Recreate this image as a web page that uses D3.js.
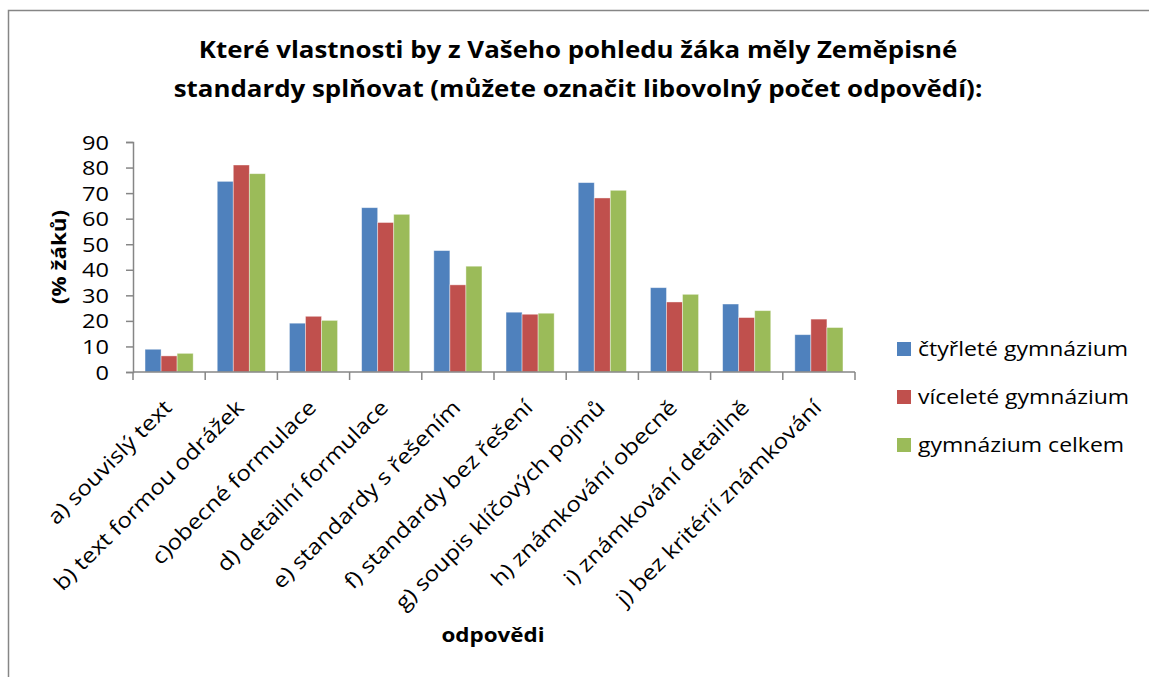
<!DOCTYPE html>
<html>
<head>
<meta charset="utf-8">
<script src="https://cdn.jsdelivr.net/npm/d3@7"></script>
<style>
  body { margin: 0; background: #fff; }
  svg { font-family: "Open Sans", sans-serif; }
</style>
</head>
<body>
<script>
var categories = ["a) souvislý text", "b) text formou odrážek", "c)obecné formulace", "d) detailní formulace",
  "e) standardy s řešením", "f) standardy bez řešení", "g) soupis klíčových pojmů", "h) známkování obecně",
  "i) známkování detailně", "j) bez kritérií známkování"];
var seriesNames = ["čtyřleté gymnázium", "víceleté gymnázium", "gymnázium celkem"];
var ctyrlete = [8.9, 74.6, 19.1, 64.3, 47.5, 23.4, 74.1, 33.0, 26.6, 14.6];
var vicelete = [6.3, 81.0, 21.8, 58.5, 34.1, 22.6, 68.1, 27.4, 21.3, 20.7];
var celkem = [7.3, 77.6, 20.2, 61.7, 41.4, 23.0, 71.1, 30.4, 24.0, 17.4];
var yTicks = [0, 10, 20, 30, 40, 50, 60, 70, 80, 90];
var colors = ["#4F81BD", "#C0504D", "#9BBB59"];

var series = [ctyrlete, vicelete, celkem];

var W = 1149, H = 677;
var margin = {top: 142, left: 133, right: 294, bottom: 305};
var width = W - margin.left - margin.right,
    height = H - margin.top - margin.bottom;
var sx = 1.15; // widen glyphs a bit, the original font runs wider

var svg = d3.select("body").append("svg")
    .attr("width", W)
    .attr("height", H);

// outer chart frame (cropped on right and bottom like the original)
svg.append("rect")
    .attr("x", 8.5).attr("y", 10.5)
    .attr("width", W + 20).attr("height", H + 20)
    .attr("fill", "none")
    .attr("stroke", "#868686")
    .attr("stroke-width", 1.5);

function place(x, y, r) {
  return "translate(" + x + "," + y + ")" + (r ? " rotate(" + r + ")" : "") + " scale(" + sx + ",1)";
}

svg.append("text")
    .attr("transform", place(578, 58))
    .attr("text-anchor", "middle")
    .attr("font-size", 22.5).attr("font-weight", "bold")
    .text("Které vlastnosti by z Vašeho pohledu žáka měly Zeměpisné");
svg.append("text")
    .attr("transform", place(578, 97))
    .attr("text-anchor", "middle")
    .attr("font-size", 22.5).attr("font-weight", "bold")
    .text("standardy splňovat (můžete označit libovolný počet odpovědí):");

var g = svg.append("g")
    .attr("transform", "translate(" + margin.left + "," + margin.top + ")");

var x0 = d3.scaleBand()
    .domain(categories)
    .range([0, width])
    .paddingInner(1 / 3)
    .paddingOuter(1 / 6);

var x1 = d3.scaleBand()
    .domain(d3.range(series.length))
    .range([0, x0.bandwidth()]);

var y = d3.scaleLinear()
    .domain([0, 90])
    .range([height, 0]);

// bars
series.forEach(function (vals, si) {
  g.append("g")
    .selectAll("rect")
    .data(vals)
    .enter()
    .append("rect")
    .attr("x", function (d, i) { return x0(categories[i]) + x1(si); })
    .attr("y", function (d) { return y(d); })
    .attr("width", x1.bandwidth())
    .attr("height", function (d) { return height - y(d); })
    .attr("fill", colors[si])
    .attr("stroke", "#ffffff")
    .attr("stroke-opacity", 0.5)
    .attr("stroke-width", 0.8);
});

// y axis
var yAxis = g.append("g")
    .call(d3.axisLeft(y).tickValues(yTicks).tickSize(7).tickPadding(0));
yAxis.selectAll("text")
    .attr("x", null).attr("dy", null)
    .attr("transform", function (d) { return place(-24, 7) ; })
    .attr("font-size", 20.5).attr("fill", "#000")
    .attr("font-family", "'Open Sans', sans-serif");
yAxis.selectAll("path, line").attr("stroke", "#868686").attr("stroke-width", 1.5);

// x axis with ticks between categories
var step = x0.step();
var xAxis = g.append("g")
    .attr("transform", "translate(0," + height + ")");
xAxis.append("line")
    .attr("x1", 0).attr("x2", width)
    .attr("stroke", "#868686").attr("stroke-width", 1.5);
xAxis.selectAll("line.tk")
    .data(d3.range(categories.length + 1))
    .enter()
    .append("line")
    .attr("class", "tk")
    .attr("x1", function (d) { return d * step; })
    .attr("x2", function (d) { return d * step; })
    .attr("y1", 0).attr("y2", 8)
    .attr("stroke", "#868686").attr("stroke-width", 1.5);
xAxis.selectAll("text")
    .data(categories)
    .enter()
    .append("text")
    .attr("transform", function (d) {
      return place(x0(d) + x0.bandwidth() / 2 + 4, 37, -45);
    })
    .attr("text-anchor", "end")
    .attr("font-size", 21)
    .text(function (d) { return d; });

// axis titles
svg.append("text")
    .attr("transform", place(66, margin.top + height / 2, -90))
    .attr("text-anchor", "middle")
    .attr("font-size", 19.5).attr("font-weight", "bold")
    .text("(% žáků)");

svg.append("text")
    .attr("transform", place(493, 642))
    .attr("text-anchor", "middle")
    .attr("font-size", 19.5).attr("font-weight", "bold")
    .text("odpovědi");

// legend
var legend = svg.append("g")
    .attr("transform", "translate(897,349)");
var li = legend.selectAll("g")
    .data(seriesNames)
    .enter()
    .append("g")
    .attr("transform", function (d, i) { return "translate(0," + (i * 48) + ")"; });
li.append("rect")
    .attr("x", 0).attr("y", -7)
    .attr("width", 14).attr("height", 14)
    .attr("fill", function (d, i) { return colors[i]; });
li.append("text")
    .attr("transform", place(21, 7))
    .attr("font-size", 20)
    .text(function (d) { return d; });
</script>
</body>
</html>
